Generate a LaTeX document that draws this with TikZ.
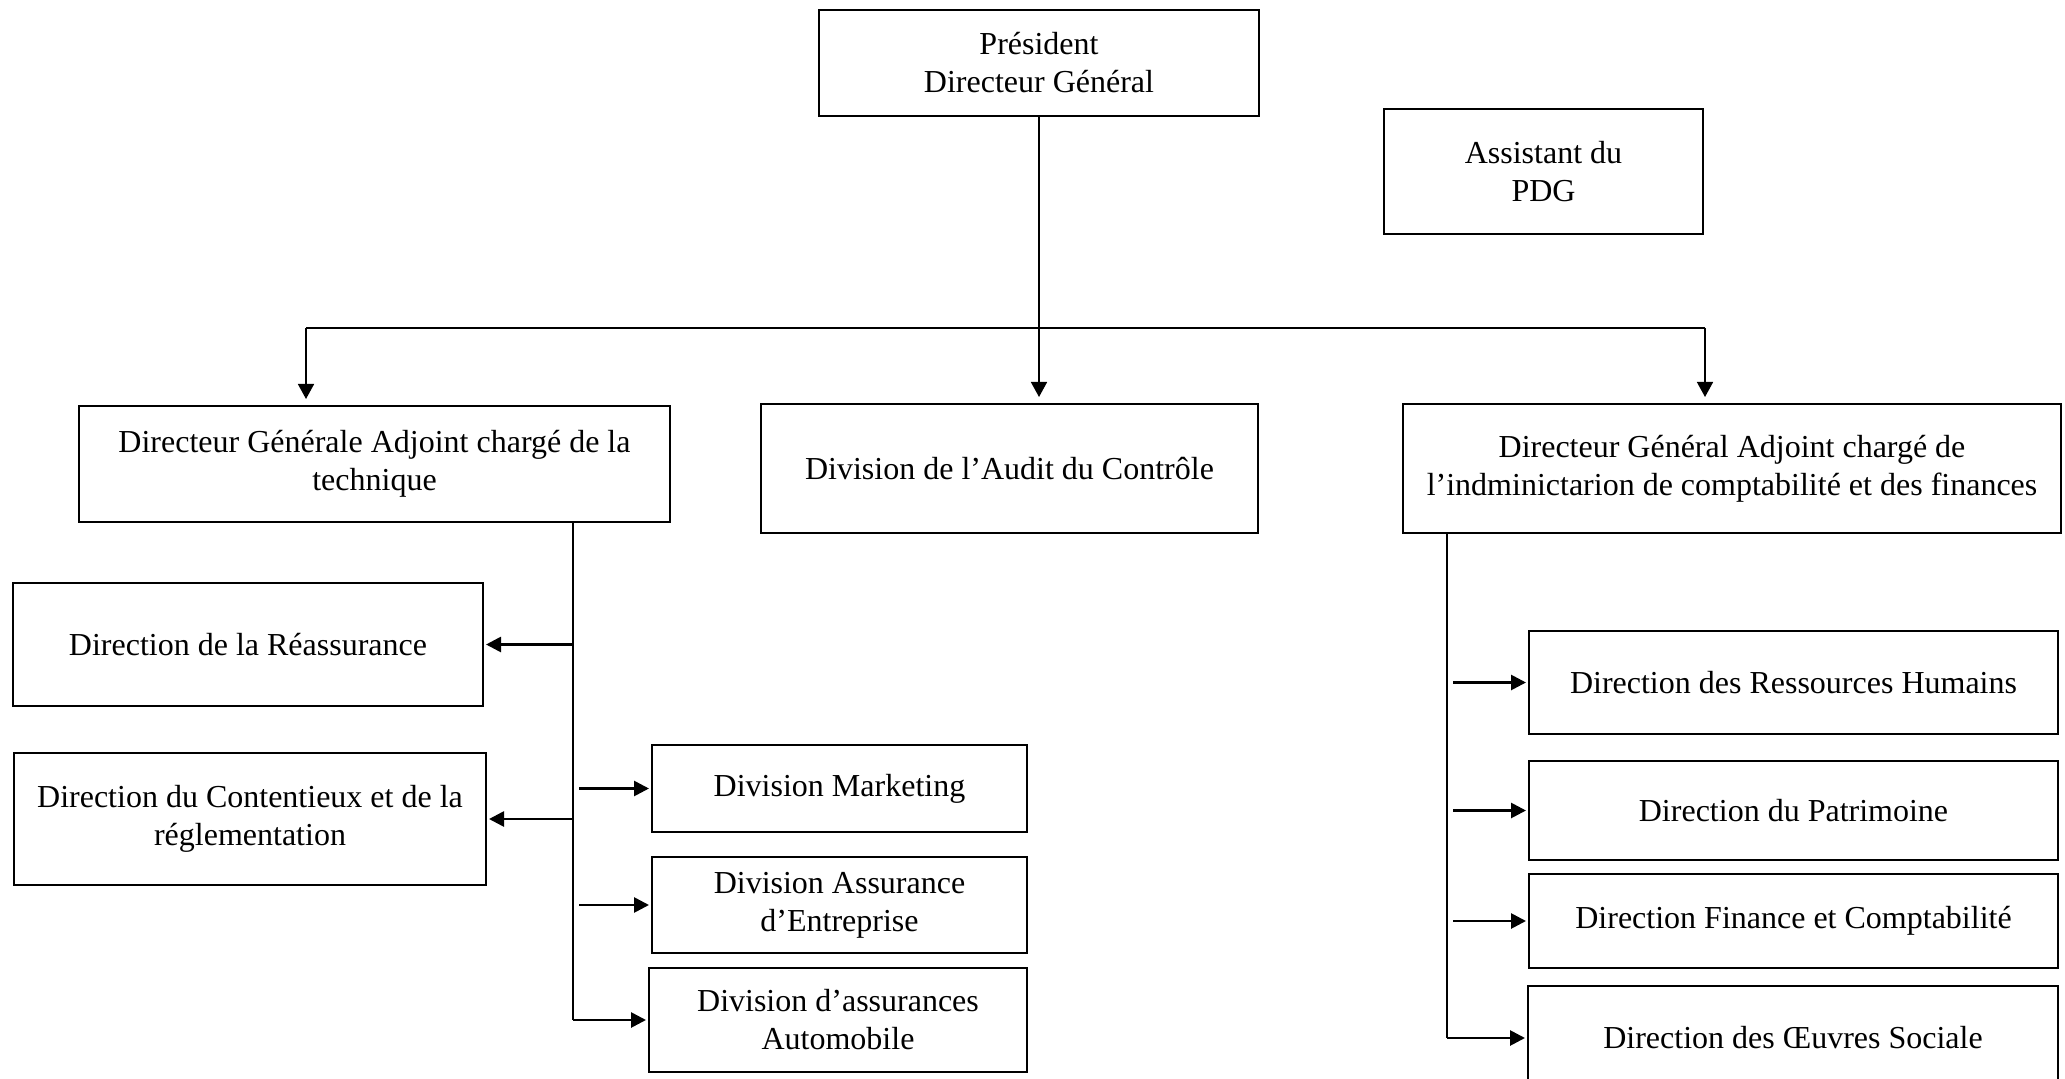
\documentclass[tikz,border=0pt]{standalone}
\usepackage{fontspec}
\setmainfont{Liberation Serif}
\usetikzlibrary{calc,arrows.meta}
\tikzset{
	box/.style={draw, line width=1pt, align=center, inner sep=0pt, font=\fontsize{16}{19}\selectfont},
	link/.style={line width=0.8pt},
	down/.style={line width=0.8pt, -{Triangle[length=7.5pt,width=8pt]}, shorten >=3pt},
	side/.style={line width=1.35pt, -{Triangle[length=7.5pt,width=7.5pt]}, shorten >=1pt},
}

\begin{document}
\begin{tikzpicture}[x=0.5pt, y=-0.5pt]
			\useasboundingbox (0,0) rectangle (2065,1079);
			\node[box, minimum width=220pt, minimum height=53pt] (pdg) at (1039,63) {Président\\Directeur Général};
			\node[box, minimum width=159.5pt, minimum height=62.5pt] (assist) at (1543.5,171.5) {Assistant du\\PDG};
			\node[box, minimum width=295.5pt, minimum height=58pt] (dgat) at (374.5,464) {Directeur Générale Adjoint chargé de la\\technique};
			\node[box, minimum width=248.5pt, minimum height=64.5pt] (audit) at (1009.5,468.5) {Division de l’Audit du Contrôle};
			\node[box, minimum width=329pt, minimum height=64.5pt] (dgaf) at (1732,468.5) {Directeur Général Adjoint chargé de\\l’indminictarion de comptabilité et des finances};
			\node[box, minimum width=235pt, minimum height=61.5pt] (reass) at (248,644.5) {Direction de la Réassurance};
			\node[box, minimum width=236pt, minimum height=66pt] (content) at (250,819) {Direction du Contentieux et de la\\réglementation};
			\node[box, minimum width=187.5pt, minimum height=43.5pt] (mark) at (839.5,788.5) {Division Marketing};
			\node[box, minimum width=187.5pt, minimum height=48pt] (entr) at (839.5,905) {Division Assurance\\d’Entreprise};
			\node[box, minimum width=189pt, minimum height=52pt] (auto) at (838,1020) {Division d’assurances\\Automobile};
			\node[box, minimum width=264.5pt, minimum height=51.5pt] (rh) at (1793.5,682.5) {Direction des Ressources Humains};
			\node[box, minimum width=264.5pt, minimum height=49.5pt] (patri) at (1793.5,810.5) {Direction du Patrimoine};
			\node[box, minimum width=264.5pt, minimum height=47pt] (fin) at (1793.5,921) {Direction Finance et Comptabilité};
			\node[box, minimum width=265pt, minimum height=52pt] (oeuvres) at (1793,1038) {Direction des Œuvres Sociale};
			\coordinate (busL) at (306,328);
			\coordinate (busR) at (1705,328);
			\coordinate (trL) at ($(dgat.south)+(198.5,0)$);
			\coordinate (trR) at ($(dgaf.south)+(-285,0)$);
			\draw[down] (pdg.south) -- (pdg.south |- audit.north);
			\draw[link] (busL) -- (busR);
			\draw[down] (busL) -- (busL |- dgat.north);
			\draw[down] (busR) -- (busR |- dgaf.north);
			\draw[link] (trL) -- (trL |- auto.west);
			\draw[side] (trL |- reass.east) -- (reass.east);
			\draw[side] (trL |- content.east) -- (content.east);
			\draw[side] ($(trL |- mark.west)+(6,0)$) -- (mark.west);
			\draw[side] ($(trL |- entr.west)+(6,0)$) -- (entr.west);
			\draw[side] (trL |- auto.west) -- (auto.west);
			\draw[link] (trR) -- (trR |- oeuvres.west);
			\draw[side] ($(trR |- rh.west)+(6,0)$) -- (rh.west);
			\draw[side] ($(trR |- patri.west)+(6,0)$) -- (patri.west);
			\draw[side] ($(trR |- fin.west)+(6,0)$) -- (fin.west);
			\draw[side] (trR |- oeuvres.west) -- (oeuvres.west);
	\end{tikzpicture}
\end{document}
